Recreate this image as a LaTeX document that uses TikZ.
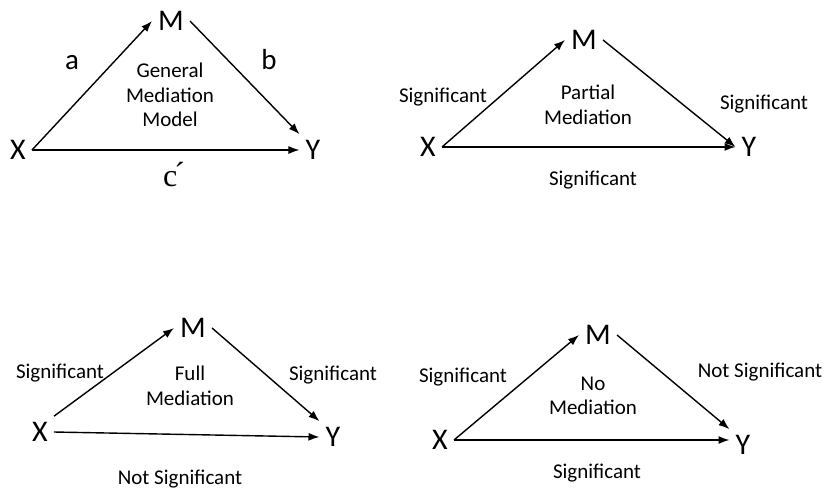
\documentclass[tikz,border=0pt]{standalone}
\usepackage{fontspec}
\setmainfont{Carlito}
\newfontfamily\primefont{Liberation Serif}[Ligatures=TeX]
\usetikzlibrary{arrows.meta}
\tikzset{
    var/.style={font=\fontsize{30}{32}\selectfont, inner sep=6pt},
    lbl/.style={font=\fontsize{21}{24.5}\selectfont, align=center, inner sep=0pt},
    path/.style={font=\fontsize{29}{30}\selectfont, inner sep=0pt},
    arrow/.style={line width=1.4pt, -{Latex[length=11pt,width=8pt]}}
}

\begin{document}
\begin{tikzpicture}[x=1pt, y=-1pt]
        \useasboundingbox (0,0) rectangle (826,491);

        % --- General Mediation Model ---
        \node (x1) [var] at (18,150) {X};
        \node (m1) [var] at (171,21) {M};
        \node (y1) [var] at (313,150) {Y};
        \draw [arrow] (x1.east) -- (m1.west);
        \draw [arrow] (m1.east) -- (y1.north west);
        \draw [arrow] (x1.east) -- (y1.west);
        \node (a1) [path] at (72,63) {a};
        \node (b1) [path] at (269,60) {b};
        \node (c1) [inner sep=0pt] at (174,175) {\primefont\fontsize{32}{34}\selectfont c\kern-3pt\raisebox{2pt}{\char"00B4}};
        \node (t1) [lbl] at (170,95) {General\\Mediation\\Model};

        % --- Partial Mediation ---
        \node (x2) [var] at (428,147) {X};
        \node (m2) [var] at (584,40) {M};
        \node (y2) [var] at (749,147) {Y};
        \draw [arrow] (x2.east) -- (m2.west);
        \draw [arrow] (m2.east) -- (y2.west);
        \draw [arrow] (x2.east) -- (y2.west);
        \node (a2) [lbl] at (443,97) {Significant};
        \node (b2) [lbl] at (764,104) {Significant};
        \node (c2) [lbl] at (593,180) {Significant};
        \node (t2) [lbl] at (588,105) {Partial\\Mediation};

        % --- Full Mediation ---
        \node (x3) [var] at (40,432) {X};
        \node (m3) [var] at (193,328) {M};
        \node (y3) [var] at (333,437) {Y};
        \draw [arrow] (x3.north east) -- (m3.west);
        \draw [arrow] (m3.east) -- (y3.north west);
        \draw [arrow] (x3.east) -- (y3.west);
        \node (a3) [lbl] at (60,373) {Significant};
        \node (b3) [lbl] at (333,375) {Significant};
        \node (c3) [lbl] at (180,479) {Not Significant};
        \node (t3) [lbl] at (190,386) {Full\\Mediation};

        % --- No Mediation ---
        \node (x4) [var] at (440,440) {X};
        \node (m4) [var] at (598,335) {M};
        \node (y4) [var] at (743,445) {Y};
        \draw [arrow] (x4.east) -- (m4.west);
        \draw [arrow] (m4.east) -- (y4.north west);
        \draw [arrow] (x4.east) -- (x4.east -| y4.west);
        \node (a4) [lbl] at (463,377) {Significant};
        \node (b4) [lbl] at (760,372) {Not Significant};
        \node (c4) [lbl] at (597,473) {Significant};
        \node (t4) [lbl] at (593,396) {No\\Mediation};

\end{tikzpicture}
\end{document}
